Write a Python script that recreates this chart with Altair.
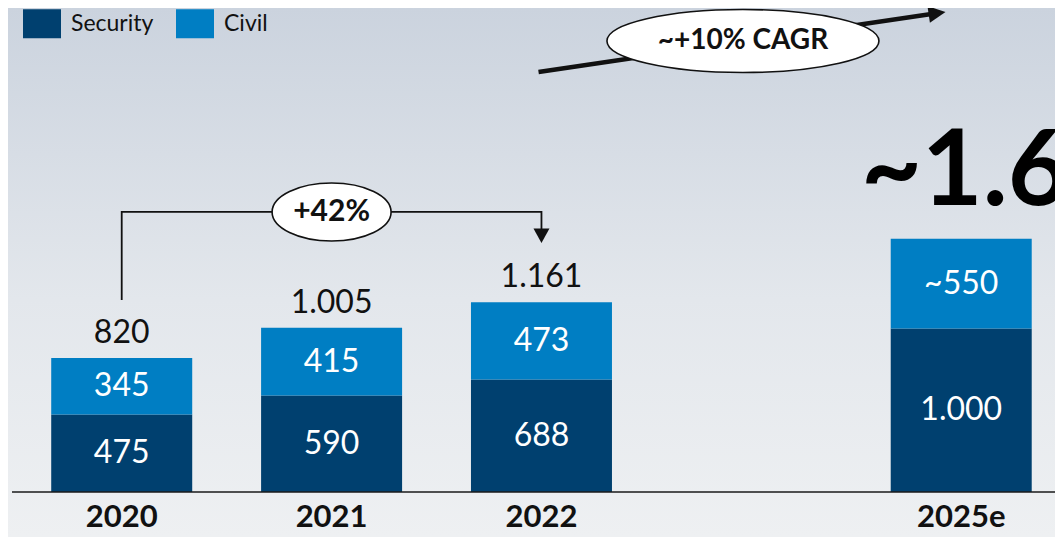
import altair as alt
import pandas as pd

# ---- data ----
years = ["2020", "2021", "2022", "2025e"]
slots = [0, 1, 2, 4]               # 2025e sits one empty slot after 2022
security = [475, 590, 688, 1000]
civil = [345, 415, 473, 550]
security_labels = ["475", "590", "688", "1.000"]
civil_labels = ["345", "415", "473", "~550"]
total_labels = ["820", "1.005", "1.161", ""]
series = ["Security", "Civil"]
colors = ["#00406f", "#007ec3"]

big_total_text = "~1.6"
growth_text = "+42%"
cagr_text = "~+10% CAGR"

# annotation anchors (data units)
bracket_x = [0, 0, 2, 2]
bracket_y = [1175, 1714, 1714, 1600]
growth_pos = (1, 1714)
growth_head = (2, 1568)
cagr_line = (1.986, 2570, 3.85, 2924)
cagr_head = (3.885, 2930)
cagr_pos = (2.96, 2760)
big_total_pos = (3.522, 1756)

W, H = 1047, 529
FONT = "Lato"
X = alt.Scale(domain=[-0.518, 4.423], nice=False, zero=False)
Y = alt.Scale(domain=[-275.4, 2962], nice=False, zero=False)

rows = []
for i, yr in enumerate(years):
    rows.append(dict(year=yr, slot=slots[i], series="Security", value=security[i],
                     ord=0, mid=security[i] / 2, label=security_labels[i]))
    rows.append(dict(year=yr, slot=slots[i], series="Civil", value=civil[i],
                     ord=1, mid=security[i] + civil[i] / 2, label=civil_labels[i]))
df = pd.DataFrame(rows)

tot = pd.DataFrame(dict(year=years, slot=slots,
                        total=[s + c for s, c in zip(security, civil)],
                        label=total_labels))

bg = alt.Chart(pd.DataFrame({"a": [0]})).mark_rect(
    color=alt.Gradient(gradient="linear",
                       stops=[alt.GradientStop(color="#cbd3de", offset=0),
                              alt.GradientStop(color="#e3e7ec", offset=0.55),
                              alt.GradientStop(color="#eef0f2", offset=1)],
                       x1=0, x2=0, y1=0, y2=1)
).encode(x=alt.value(0), x2=alt.value(W), y=alt.value(0), y2=alt.value(H))

legend_path = "M-1,-0.76L1,-0.76L1,0.76L-1,0.76Z"
bars = alt.Chart(df).mark_bar(size=141).encode(
    x=alt.X("slot:Q", scale=X, axis=None),
    y=alt.Y("value:Q", scale=Y, axis=None, stack="zero"),
    color=alt.Color("series:N", scale=alt.Scale(domain=series, range=colors),
                    legend=alt.Legend(orient="none", legendX=15, legendY=-3.5,
                                      direction="horizontal", title=None,
                                      symbolType=legend_path, symbolSize=1444,
                                      symbolStrokeWidth=0, symbolOpacity=1,
                                      labelFontSize=23, labelFont=FONT,
                                      labelColor="#111111", labelOffset=10,
                                      columnPadding=22, padding=0)),
    order=alt.Order("ord:Q", sort="ascending"),
)

axis_line = alt.Chart(pd.DataFrame({"v": [0]})).mark_rule(
    color="#1a1a1a", strokeWidth=1.5
).encode(y=alt.Y("v:Q", scale=Y), x=alt.value(4), x2=alt.value(W))

seg_text = alt.Chart(df).mark_text(
    color="white", fontSize=32, font=FONT, baseline="middle"
).encode(x=alt.X("slot:Q", scale=X), y=alt.Y("mid:Q", scale=Y), text="label:N")

tot_text = alt.Chart(tot).mark_text(
    color="#111111", fontSize=32, font=FONT, baseline="alphabetic", dy=-15
).encode(x=alt.X("slot:Q", scale=X), y=alt.Y("total:Q", scale=Y), text="label:N")

year_text = alt.Chart(tot).mark_text(
    color="#111111", fontSize=31, font=FONT, fontWeight="bold", baseline="middle"
).encode(x=alt.X("slot:Q", scale=X), y=alt.value(510), text="year:N")

bracket = alt.Chart(pd.DataFrame(dict(x=bracket_x, y=bracket_y, o=[0, 1, 2, 3]))).mark_line(
    color="#111111", strokeWidth=1.8
).encode(x=alt.X("x:Q", scale=X), y=alt.Y("y:Q", scale=Y), order="o:Q")

down_tri = "M-1,-0.9L1,-0.9L0,0.9Z"
bracket_head = alt.Chart(pd.DataFrame(dict(x=[growth_head[0]], y=[growth_head[1]]))).mark_point(
    shape=down_tri, size=256, filled=True, color="#111111", opacity=1, strokeWidth=0
).encode(x=alt.X("x:Q", scale=X), y=alt.Y("y:Q", scale=Y))


def ellipse_path(r):
    k = 0.5523
    return (f"M-1,0C-1,{-k*r:.4f},{-k:.4f},{-r:.4f},0,{-r:.4f}"
            f"C{k:.4f},{-r:.4f},1,{-k*r:.4f},1,0"
            f"C1,{k*r:.4f},{k:.4f},{r:.4f},0,{r:.4f}"
            f"C{-k:.4f},{r:.4f},-1,{k*r:.4f},-1,0Z")


growth_df = pd.DataFrame(dict(x=[growth_pos[0]], y=[growth_pos[1]], t=[growth_text]))
growth_ell = alt.Chart(growth_df).mark_point(
    shape=ellipse_path(58 / 119), size=119 ** 2, filled=True, fill="white",
    stroke="#111111", strokeWidth=1.6, opacity=1
).encode(x=alt.X("x:Q", scale=X), y=alt.Y("y:Q", scale=Y))
growth_lbl = alt.Chart(growth_df).mark_text(
    fontSize=30, font=FONT, fontWeight="bold", color="#111111", baseline="middle"
).encode(x=alt.X("x:Q", scale=X), y=alt.Y("y:Q", scale=Y), text="t:N")

cagr_rule = alt.Chart(pd.DataFrame(dict(x=[cagr_line[0]], y=[cagr_line[1]],
                                        x2=[cagr_line[2]], y2=[cagr_line[3]]))).mark_rule(
    color="#111111", strokeWidth=4.5
).encode(x=alt.X("x:Q", scale=X), y=alt.Y("y:Q", scale=Y), x2="x2:Q", y2="y2:Q")

cagr_head_mark = alt.Chart(pd.DataFrame(dict(x=[cagr_head[0]], y=[cagr_head[1]]))).mark_point(
    shape="M-1,-1L1,0L-1,1Z", size=289, filled=True, color="#111111", opacity=1,
    angle=351.7, strokeWidth=0
).encode(x=alt.X("x:Q", scale=X), y=alt.Y("y:Q", scale=Y))

cagr_df = pd.DataFrame(dict(x=[cagr_pos[0]], y=[cagr_pos[1]], t=[cagr_text]))
cagr_ell = alt.Chart(cagr_df).mark_point(
    shape=ellipse_path(63 / 272), size=272 ** 2, filled=True, fill="white",
    stroke="#111111", strokeWidth=1.6, opacity=1
).encode(x=alt.X("x:Q", scale=X), y=alt.Y("y:Q", scale=Y))
cagr_lbl = alt.Chart(cagr_df).mark_text(
    fontSize=28, font=FONT, fontWeight="bold", color="#111111", baseline="middle"
).encode(x=alt.X("x:Q", scale=X), y=alt.Y("y:Q", scale=Y), text="t:N")

big_df = pd.DataFrame(dict(x=[big_total_pos[0]], y=[big_total_pos[1]], t=[big_total_text]))
big_lbl = alt.Chart(big_df).mark_text(
    fontSize=105, font=FONT, fontWeight="bold", color="#000000",
    align="left", baseline="alphabetic"
).encode(x=alt.X("x:Q", scale=X), y=alt.Y("y:Q", scale=Y), text="t:N")

chart = alt.layer(
    bg, bars, axis_line, seg_text, tot_text, year_text,
    bracket, bracket_head, growth_ell, growth_lbl,
    cagr_rule, cagr_head_mark, cagr_ell, cagr_lbl, big_lbl
).properties(
    width=W, height=H, padding=0,
    autosize=alt.AutoSizeParams(type="none")
).configure_view(stroke=None).configure(background="#dfe3e9", font=FONT)

chart.save("out.html", embed_options={"renderer": "svg", "actions": False})
